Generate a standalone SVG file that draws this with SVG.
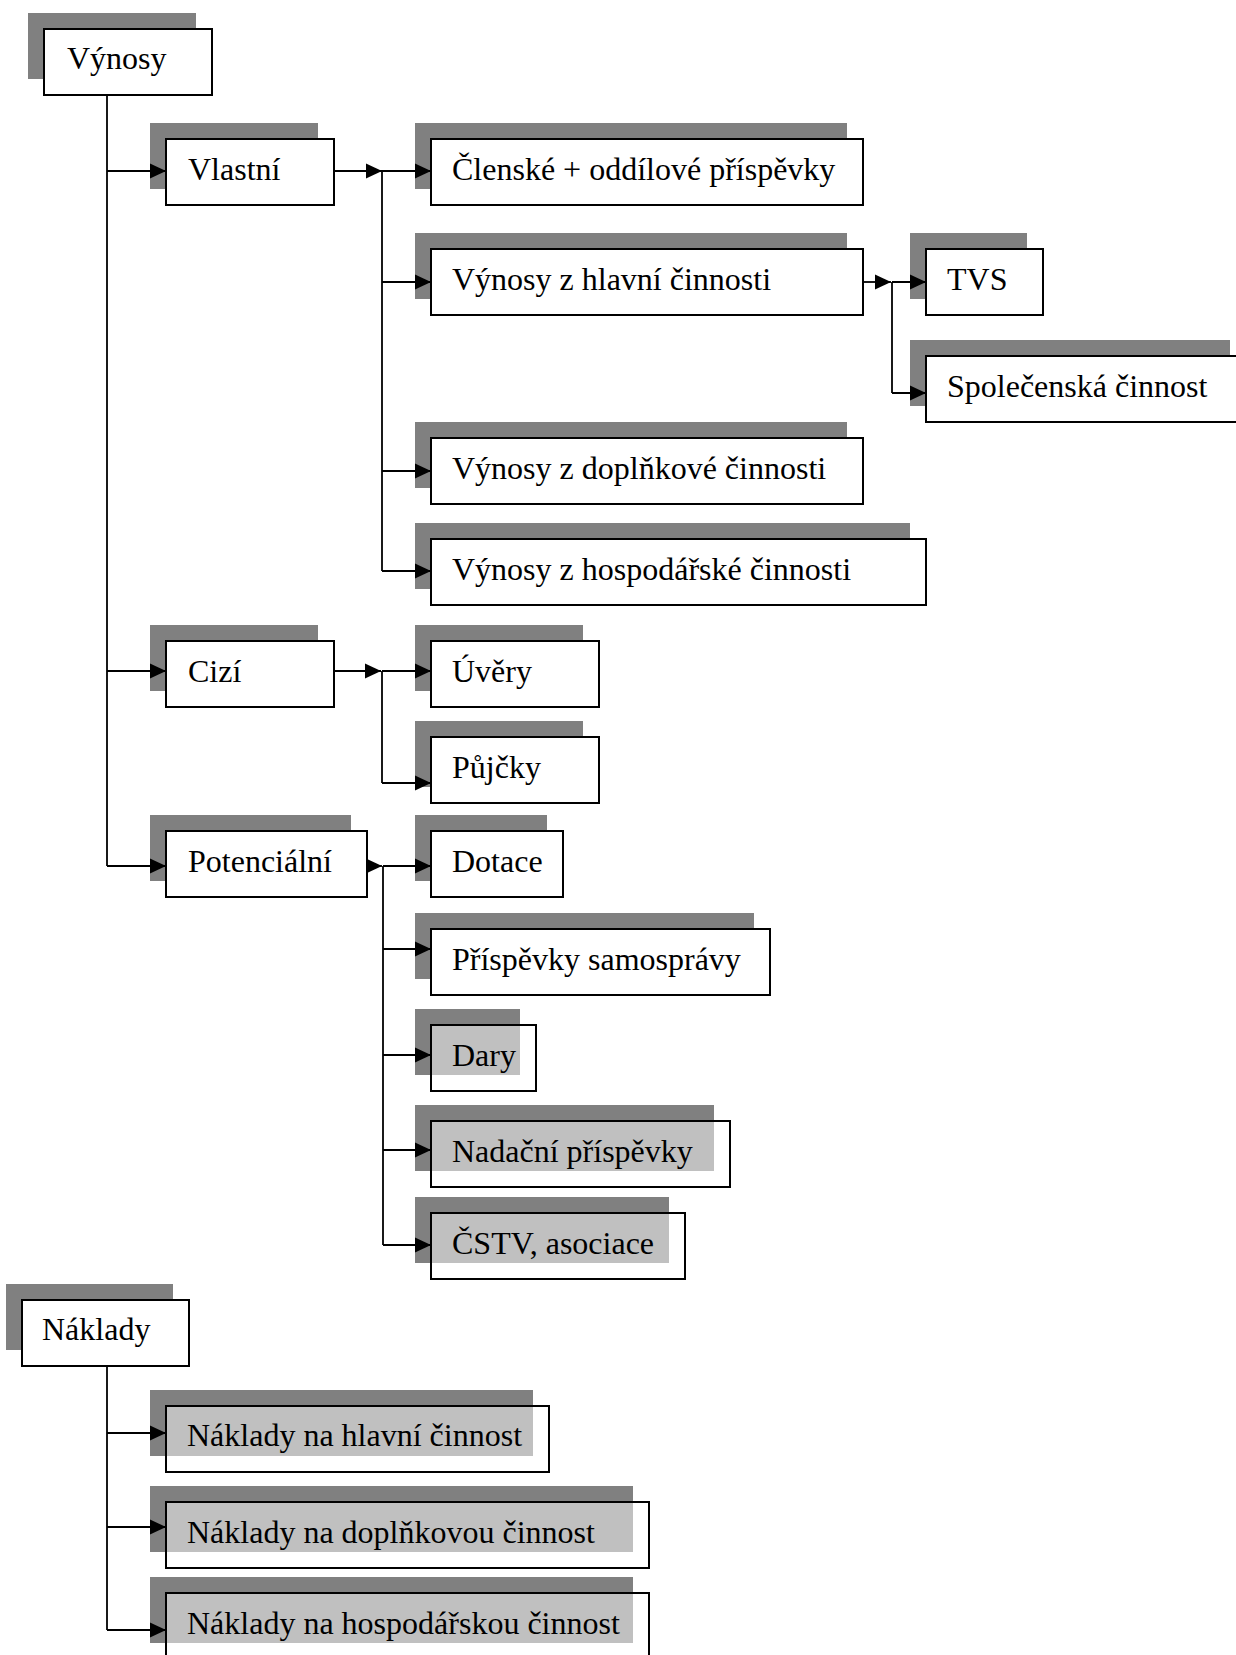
<svg xmlns="http://www.w3.org/2000/svg" width="1236" height="1655" viewBox="0 0 1236 1655">
<style>
.sh{fill:#808080}
.bx{fill:#ffffff;stroke:#000;stroke-width:2}
.bt{fill:#ffffff;fill-opacity:0.5;stroke:#000;stroke-width:2}
.tx{font-family:"Liberation Serif","Times New Roman",serif;font-size:32px;fill:#000}
.cn{fill:none;stroke:#000;stroke-width:1.8}
.ar{fill:none;stroke:#000;stroke-width:1.8;marker-end:url(#ah)}
</style>
<defs>
<marker id="ah" markerUnits="userSpaceOnUse" markerWidth="16" markerHeight="16" refX="16" refY="7.5" orient="auto" viewBox="0 0 16 15">
<path d="M0,0 L16,7.5 L0,15 z" fill="#000"/>
</marker>
</defs>
<rect width="1236" height="1655" fill="#fff"/>

<g id="n-vynosy"><rect class="sh" x="28" y="13" width="168" height="66"/><rect class="bx" x="44" y="29" width="168" height="66"/><text class="tx" x="67" y="69">Výnosy</text></g>
<g id="n-vlastni"><rect class="sh" x="150" y="123" width="168" height="66"/><rect class="bx" x="166" y="139" width="168" height="66"/><text class="tx" x="188" y="180">Vlastní</text></g>
<g id="n-clenske"><rect class="sh" x="415" y="123" width="432" height="66"/><rect class="bx" x="431" y="139" width="432" height="66"/><text class="tx" x="452" y="180">Členské + oddílové příspěvky</text></g>
<g id="n-hlavni"><rect class="sh" x="415" y="233" width="432" height="66"/><rect class="bx" x="431" y="249" width="432" height="66"/><text class="tx" x="452" y="290">Výnosy z hlavní činnosti</text></g>
<g id="n-tvs"><rect class="sh" x="910" y="233" width="117" height="66"/><rect class="bx" x="926" y="249" width="117" height="66"/><text class="tx" x="947" y="290">TVS</text></g>
<g id="n-spolecenska"><rect class="sh" x="910" y="340" width="320" height="66"/><rect class="bx" x="926" y="356" width="320" height="66"/><text class="tx" x="947" y="397">Společenská činnost</text></g>
<g id="n-doplnkove"><rect class="sh" x="415" y="422" width="432" height="66"/><rect class="bx" x="431" y="438" width="432" height="66"/><text class="tx" x="452" y="479">Výnosy z doplňkové činnosti</text></g>
<g id="n-hospodarske"><rect class="sh" x="415" y="523" width="495" height="66"/><rect class="bx" x="431" y="539" width="495" height="66"/><text class="tx" x="452" y="580">Výnosy z hospodářské činnosti</text></g>
<g id="n-cizi"><rect class="sh" x="150" y="625" width="168" height="66"/><rect class="bx" x="166" y="641" width="168" height="66"/><text class="tx" x="188" y="682">Cizí</text></g>
<g id="n-uvery"><rect class="sh" x="415" y="625" width="168" height="66"/><rect class="bx" x="431" y="641" width="168" height="66"/><text class="tx" x="452" y="682">Úvěry</text></g>
<g id="n-pujcky"><rect class="sh" x="415" y="721" width="168" height="66"/><rect class="bx" x="431" y="737" width="168" height="66"/><text class="tx" x="452" y="778">Půjčky</text></g>
<g id="n-potencialni"><rect class="sh" x="150" y="815" width="201" height="66"/><rect class="bx" x="166" y="831" width="201" height="66"/><text class="tx" x="188" y="872">Potenciální</text></g>
<g id="n-dotace"><rect class="sh" x="415" y="815" width="132" height="66"/><rect class="bx" x="431" y="831" width="132" height="66"/><text class="tx" x="452" y="872">Dotace</text></g>
<g id="n-samospravy"><rect class="sh" x="415" y="913" width="339" height="66"/><rect class="bx" x="431" y="929" width="339" height="66"/><text class="tx" x="452" y="970">Příspěvky samosprávy</text></g>
<g id="n-dary"><rect class="sh" x="415" y="1009" width="105" height="66"/><rect class="bt" x="431" y="1025" width="105" height="66"/><text class="tx" x="452" y="1066">Dary</text></g>
<g id="n-nadacni"><rect class="sh" x="415" y="1105" width="299" height="66"/><rect class="bt" x="431" y="1121" width="299" height="66"/><text class="tx" x="452" y="1162">Nadační příspěvky</text></g>
<g id="n-cstv"><rect class="sh" x="415" y="1197" width="254" height="66"/><rect class="bt" x="431" y="1213" width="254" height="66"/><text class="tx" x="452" y="1254">ČSTV, asociace</text></g>
<g id="n-naklady"><rect class="sh" x="6" y="1284" width="167" height="66"/><rect class="bx" x="22" y="1300" width="167" height="66"/><text class="tx" x="42" y="1340">Náklady</text></g>
<g id="n-nak-hlavni"><rect class="sh" x="150" y="1390" width="383" height="66"/><rect class="bt" x="166" y="1406" width="383" height="66"/><text class="tx" x="187" y="1446">Náklady na hlavní činnost</text></g>
<g id="n-nak-doplnkova"><rect class="sh" x="150" y="1486" width="483" height="66"/><rect class="bt" x="166" y="1502" width="483" height="66"/><text class="tx" x="187" y="1543">Náklady na doplňkovou činnost</text></g>
<g id="n-nak-hospodarska"><rect class="sh" x="150" y="1577" width="483" height="66"/><rect class="bt" x="166" y="1593" width="483" height="66"/><text class="tx" x="187" y="1634">Náklady na hospodářskou činnost</text></g>

<g id="connectors">
<path class="cn" d="M107,95 V866"/>
<path class="ar" d="M107,171 H166"/>
<path class="ar" d="M107,671 H166"/>
<path class="ar" d="M107,866 H166"/>
<path class="ar" d="M334,171 H382"/>
<path class="cn" d="M382,171 V571"/>
<path class="ar" d="M382,171 H431"/>
<path class="ar" d="M382,282 H431"/>
<path class="ar" d="M382,471 H431"/>
<path class="ar" d="M382,571 H431"/>
<path class="ar" d="M863,282 H891"/>
<path class="cn" d="M892,282 V393"/>
<path class="ar" d="M892,282 H926"/>
<path class="ar" d="M892,393 H926"/>
<path class="ar" d="M334,671 H381"/>
<path class="cn" d="M382,671 V783"/>
<path class="ar" d="M382,671 H431"/>
<path class="ar" d="M382,783 H431"/>
<path class="ar" d="M367,866 H382"/>
<path class="cn" d="M383,866 V1245"/>
<path class="ar" d="M383,866 H431"/>
<path class="ar" d="M383,949 H431"/>
<path class="ar" d="M383,1055 H431"/>
<path class="ar" d="M383,1150 H431"/>
<path class="ar" d="M383,1245 H431"/>
<path class="cn" d="M107,1366 V1630"/>
<path class="ar" d="M107,1433 H166"/>
<path class="ar" d="M107,1527 H166"/>
<path class="ar" d="M107,1630 H166"/>
</g>
</svg>
